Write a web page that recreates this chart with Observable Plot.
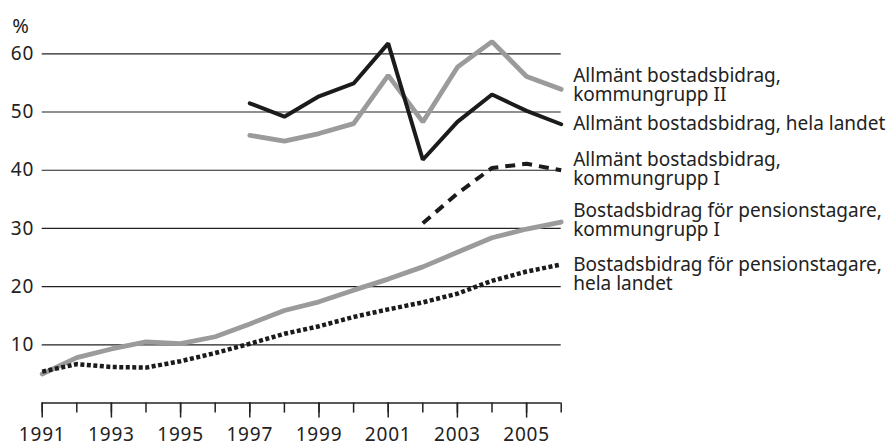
<!DOCTYPE html>
<html>
<head>
<meta charset="utf-8">
<script src="https://cdn.jsdelivr.net/npm/d3@7"></script>
<script src="https://cdn.jsdelivr.net/npm/@observablehq/plot@0.6"></script>
<style>
  html, body { margin: 0; padding: 0; background: #fff; }
  #chart svg { display: block; }
  #chart g[aria-label="y-axis tick label"] text,
  #chart g[aria-label="x-axis tick label"] text { letter-spacing: 0.8px; }
</style>
</head>
<body>
<div id="chart"></div>
<script>
// ---- Data ----
const years = [1991,1992,1993,1994,1995,1996,1997,1998,1999,2000,2001,2002,2003,2004,2005,2006];
const labelYears = [1991,1993,1995,1997,1999,2001,2003,2005];
const yTicks = [10,20,30,40,50,60];

const allmantYears = [1997,1998,1999,2000,2001,2002,2003,2004,2005,2006];
const allmantHela = [51.5,49.2,52.7,54.9,61.8,41.8,48.3,53.0,50.2,47.9];
const allmantKG2  = [46.0,45.0,46.3,48.0,56.3,48.3,57.7,62.1,56.1,53.9];

const allmantKG1Years = [2002,2003,2004,2005,2006];
const allmantKG1 = [30.9,36.0,40.4,41.1,40.0];

const pensionKG1  = [5.0,7.8,9.3,10.5,10.2,11.4,13.6,15.9,17.4,19.4,21.3,23.4,25.9,28.4,29.9,31.1];
const pensionHela = [5.4,6.7,6.2,6.1,7.2,8.6,10.2,11.9,13.2,14.8,16.1,17.3,18.8,21.0,22.6,23.8];

const seriesNames = [
  "Allmänt bostadsbidrag,\nkommungrupp II",
  "Allmänt bostadsbidrag, hela landet",
  "Allmänt bostadsbidrag,\nkommungrupp I",
  "Bostadsbidrag för pensionstagare,\nkommungrupp I",
  "Bostadsbidrag för pensionstagare,\nhela landet"
];

// ---- Build tables ----
const zip = (xs, ys) => xs.map((x, i) => ({year: x, value: ys[i]}));
const sKG2 = zip(allmantYears, allmantKG2);
const sHela = zip(allmantYears, allmantHela);
const sKG1 = zip(allmantKG1Years, allmantKG1);
const sPKG1 = zip(years, pensionKG1);
const sPHela = zip(years, pensionHela);

const ends = [sKG2, sHela, sKG1, sPKG1, sPHela].map((s, i) => ({
  year: s[s.length - 1].year, value: s[s.length - 1].value, name: seriesNames[i]
}));
const labelDy = [-4, 0, -1, -2, 10];

const GRAY = "#9b9b9b";
const BLACK = "#1b1b1b";
const FONT = "'Noto Sans', sans-serif";
const FS = 19;

const chart = Plot.plot({
  width: 891,
  height: 445,
  marginLeft: 41.7,
  marginRight: 330.3,
  marginTop: 53.3,
  marginBottom: 42.4,
  style: {fontFamily: FONT, fontSize: FS + "px", color: "#222", background: "#fff", overflow: "visible"},
  x: {domain: [1991, 2006]},
  y: {domain: [0, 60]},
  marks: [
    Plot.ruleY(yTicks, {x1: 1991, x2: 2006, stroke: "#222", strokeWidth: 1.2}),
    Plot.ruleY([0], {x1: 1991, x2: 2006, stroke: "#222", strokeWidth: 1.5}),
    Plot.axisY(yTicks, {tickSize: 0, tickPadding: 8, label: null, fontSize: FS, fill: "#222"}),
    Plot.axisX(years, {tickSize: 10, tickFormat: () => "", label: null, stroke: "#222", strokeWidth: 1.5}),
    Plot.axisX(labelYears, {tickSize: 15, tickPadding: 9, tickFormat: d => String(d), label: null, fontSize: FS, fill: "#222", stroke: "#222", strokeWidth: 1.5}),
    Plot.text(["%"], {frameAnchor: "top-left", dx: -30, dy: -35, fontSize: 20, fill: "#222", textAnchor: "start"}),
    Plot.lineY(sPKG1, {x: "year", y: "value", stroke: GRAY, strokeWidth: 4.8, strokeLinejoin: "miter"}),
    Plot.lineY(sPHela, {x: "year", y: "value", stroke: BLACK, strokeWidth: 4.5, strokeDasharray: "4,2.5", strokeLinecap: "butt"}),
    Plot.lineY(sKG1, {x: "year", y: "value", stroke: BLACK, strokeWidth: 4, strokeDasharray: "10,7", strokeLinecap: "butt"}),
    Plot.lineY(sKG2, {x: "year", y: "value", stroke: GRAY, strokeWidth: 4.8, strokeLinejoin: "miter"}),
    Plot.lineY(sHela, {x: "year", y: "value", stroke: BLACK, strokeWidth: 4, strokeLinejoin: "miter"}),
    ...ends.map((d, i) => Plot.text([d], {x: "year", y: "value", text: "name", dx: 12, dy: labelDy[i], textAnchor: "start", lineAnchor: "middle", lineHeight: 1.02, fontSize: FS, fill: "#222"}))
  ]
});
document.getElementById("chart").appendChild(chart);
</script>
</body>
</html>
